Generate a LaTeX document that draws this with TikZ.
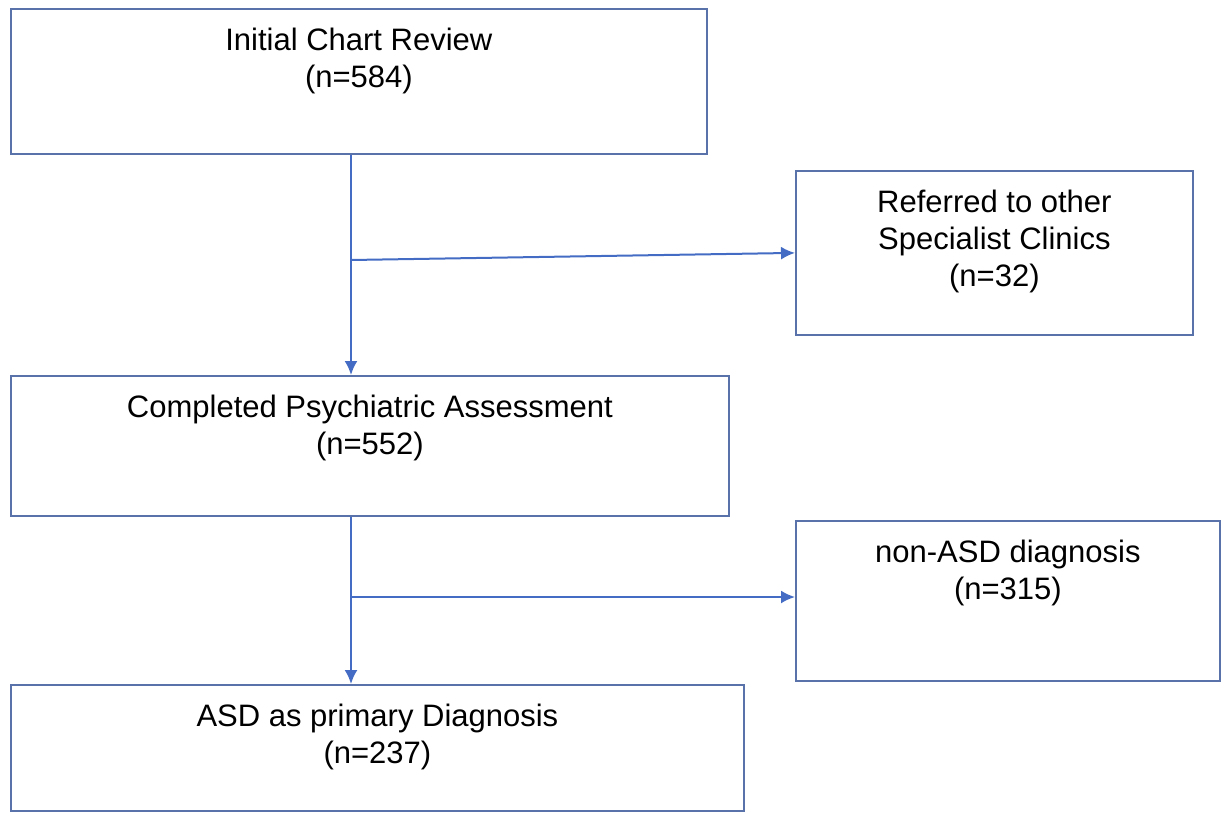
\documentclass[tikz,border=0pt]{standalone}
\usepackage{fontspec}
\setmainfont{Liberation Sans}
\usepackage{tikz}
\usetikzlibrary{calc}
\usetikzlibrary{arrows.meta}
\definecolor{boxblue}{RGB}{90,114,170}
\definecolor{linkblue}{RGB}{68,108,196}
\tikzset{
  stagebox/.style={draw=boxblue, line width=0.9pt, fill=white, inner sep=0pt},
  stagetext/.style={align=center, inner sep=0pt, font=\fontsize{15.5}{18.5}\selectfont},
  link/.style={draw=linkblue, line width=1pt, -{Latex[length=7pt,width=6.5pt]}}
}
\newcommand{\stage}[6]{\node[stagebox, anchor=north west, minimum width=#4*0.5pt, minimum height=#5*0.5pt] (#1) at (#2,#3) {}; \node[stagetext, anchor=north] (#1-text) at ([yshift=-10pt]#1.north) {#6};}

\begin{document}
\begin{tikzpicture}[x=0.5pt, y=-0.5pt]
        \useasboundingbox (0,0) rectangle (1223,814);
        % left column
        \stage{init}{10}{8}{696}{145}{Initial Chart Review\\(n=584)}
        \stage{psych}{10}{375}{718}{140}{Completed Psychiatric Assessment\\(n=552)}
        \stage{asd}{10}{684}{733}{126}{ASD as primary Diagnosis\\(n=237)}
        % right column
        \stage{refer}{795}{170}{397}{164}{Referred to other\\Specialist Clinics\\(n=32)}
        \stage{nonasd}{795}{520}{424}{160}{non-ASD diagnosis\\(n=315)}
        % split points
        \coordinate (split1) at (351,260);
        \coordinate (split2) at (351,597);
        % links
        \draw[link] (split1 |- init.south) -- (split1 |- psych.north);
        \draw[link] (split1) -- (refer.west);
        \draw[link] (split2 |- psych.south) -- (split2 |- asd.north);
        \draw[link] (split2) -- (split2 -| nonasd.west);
    \end{tikzpicture}
\end{document}
